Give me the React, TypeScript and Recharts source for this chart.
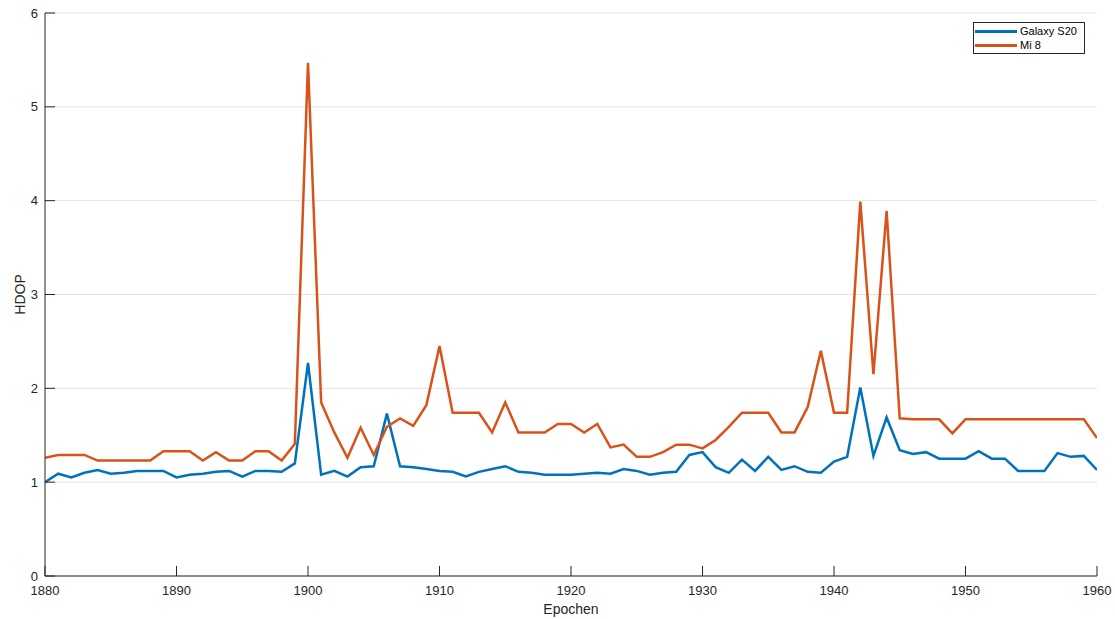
import React from "react";
import {
  CartesianGrid,
  Label,
  Legend,
  Line,
  LineChart,
  XAxis,
  YAxis,
} from "recharts";

const FONT = "'Liberation Sans', Arial, Helvetica, sans-serif";

// epochs on the x axis
const epochs = [
  1880, 1881, 1882, 1883, 1884, 1885, 1886, 1887, 1888, 1889,
  1890, 1891, 1892, 1893, 1894, 1895, 1896, 1897, 1898, 1899,
  1900, 1901, 1902, 1903, 1904, 1905, 1906, 1907, 1908, 1909,
  1910, 1911, 1912, 1913, 1914, 1915, 1916, 1917, 1918, 1919,
  1920, 1921, 1922, 1923, 1924, 1925, 1926, 1927, 1928, 1929,
  1930, 1931, 1932, 1933, 1934, 1935, 1936, 1937, 1938, 1939,
  1940, 1941, 1942, 1943, 1944, 1945, 1946, 1947, 1948, 1949,
  1950, 1951, 1952, 1953, 1954, 1955, 1956, 1957, 1958, 1959,
  1960,
];

// HDOP, Galaxy S20
const galaxyS20 = [
  1.0, 1.09, 1.05, 1.1, 1.13, 1.09, 1.1, 1.12, 1.12, 1.12,
  1.05, 1.08, 1.09, 1.11, 1.12, 1.06, 1.12, 1.12, 1.11, 1.2,
  2.27, 1.08, 1.12, 1.06, 1.16, 1.17, 1.73, 1.17, 1.16, 1.14,
  1.12, 1.11, 1.06, 1.11, 1.14, 1.17, 1.11, 1.1, 1.08, 1.08,
  1.08, 1.09, 1.1, 1.09, 1.14, 1.12, 1.08, 1.1, 1.11, 1.29,
  1.32, 1.16, 1.1, 1.24, 1.12, 1.27, 1.13, 1.17, 1.11, 1.1,
  1.22, 1.27, 2.01, 1.28, 1.69, 1.34, 1.3, 1.32, 1.25, 1.25,
  1.25, 1.33, 1.25, 1.25, 1.12, 1.12, 1.12, 1.31, 1.27, 1.28,
  1.13,
];

// HDOP, Mi 8
const mi8 = [
  1.26, 1.29, 1.29, 1.29, 1.23, 1.23, 1.23, 1.23, 1.23, 1.33,
  1.33, 1.33, 1.23, 1.32, 1.23, 1.23, 1.33, 1.33, 1.23, 1.41,
  5.47, 1.85, 1.53, 1.26, 1.58, 1.29, 1.59, 1.68, 1.6, 1.82,
  2.45, 1.74, 1.74, 1.74, 1.53, 1.85, 1.53, 1.53, 1.53, 1.62,
  1.62, 1.53, 1.62, 1.37, 1.4, 1.27, 1.27, 1.32, 1.4, 1.4,
  1.36, 1.45, 1.59, 1.74, 1.74, 1.74, 1.53, 1.53, 1.8, 2.4,
  1.74, 1.74, 3.99, 2.15, 3.89, 1.68, 1.67, 1.67, 1.67, 1.52,
  1.67, 1.67, 1.67, 1.67, 1.67, 1.67, 1.67, 1.67, 1.67, 1.67,
  1.47,
];

const xTicks = [1880, 1890, 1900, 1910, 1920, 1930, 1940, 1950, 1960];
const yTicks = [0, 1, 2, 3, 4, 5, 6];

const data = epochs.map((epoch, i) => ({
  epoch,
  galaxy: galaxyS20[i],
  mi8: mi8[i],
}));

const axisColor = "#262626";
const tickStyle = { fill: axisColor, fontSize: 13, fontFamily: FONT };

const LegendBox = (props: any) => {
  const { payload } = props;
  return (
    <div
      style={{
        border: "1px solid #262626",
        background: "#fff",
        padding: "1px 7px 1px 1px",
        fontFamily: FONT,
        fontSize: 11,
        color: "#000",
      }}
    >
      {(payload || []).map((entry: any) => (
        <div
          key={entry.value}
          style={{ display: "flex", alignItems: "center", height: 14 }}
        >
          <span
            style={{
              display: "inline-block",
              width: 42,
              borderTop: `3px solid ${entry.color}`,
              marginRight: 3,
            }}
          />
          {entry.value}
        </div>
      ))}
    </div>
  );
};

export default function App() {
  return (
    <div style={{ position: "absolute", left: 0, top: 0, background: "#fff" }}>
      <LineChart
        width={1115}
        height={619}
        data={data}
        margin={{ top: 13, right: 18, bottom: 0, left: 0 }}
      >
        <CartesianGrid
          xAxisId="b"
          yAxisId="l"
          vertical={false}
          stroke="#e3e3e3"
        />
        <XAxis
          xAxisId="b"
          dataKey="epoch"
          type="number"
          domain={[1880, 1960]}
          ticks={xTicks}
          height={43}
          tickSize={-10}
          tickMargin={20}
          stroke={axisColor}
          tick={tickStyle}
          allowDataOverflow
        >
          <Label
            value="Epochen"
            position="insideBottom"
            offset={5}
            style={{ fill: axisColor, fontSize: 14, fontFamily: FONT }}
          />
        </XAxis>
        <XAxis
          xAxisId="t"
          orientation="top"
          dataKey="epoch"
          type="number"
          domain={[1880, 1960]}
          ticks={xTicks}
          height={0}
          tickSize={-10}
          tick={false}
          stroke={axisColor}
        />
        <YAxis
          yAxisId="l"
          type="number"
          domain={[0, 6]}
          ticks={yTicks}
          width={45}
          tickSize={-10}
          tickMargin={17}
          stroke={axisColor}
          tick={tickStyle}
        >
          <Label
            value="HDOP"
            angle={-90}
            position="center"
            dx={-2}
            style={{ fill: axisColor, fontSize: 14, fontFamily: FONT }}
          />
        </YAxis>
        <YAxis
          yAxisId="r"
          orientation="right"
          type="number"
          domain={[0, 6]}
          ticks={yTicks}
          width={0}
          tickSize={-10}
          tick={false}
          stroke={axisColor}
        />
        <Legend
          layout="vertical"
          align="center"
          verticalAlign="middle"
          content={<LegendBox />}
          wrapperStyle={{
            top: 22,
            left: 973,
            right: "auto",
            bottom: "auto",
            width: "auto",
            height: "auto",
          }}
        />
        <Line
          xAxisId="b"
          yAxisId="l"
          type="linear"
          dataKey="galaxy"
          name="Galaxy S20"
          stroke="#0072BD"
          strokeWidth={2.5}
          dot={false}
          isAnimationActive={false}
        />
        <Line
          xAxisId="b"
          yAxisId="l"
          type="linear"
          dataKey="mi8"
          name="Mi 8"
          stroke="#D95319"
          strokeWidth={2.5}
          dot={false}
          isAnimationActive={false}
        />
      </LineChart>
    </div>
  );
}
